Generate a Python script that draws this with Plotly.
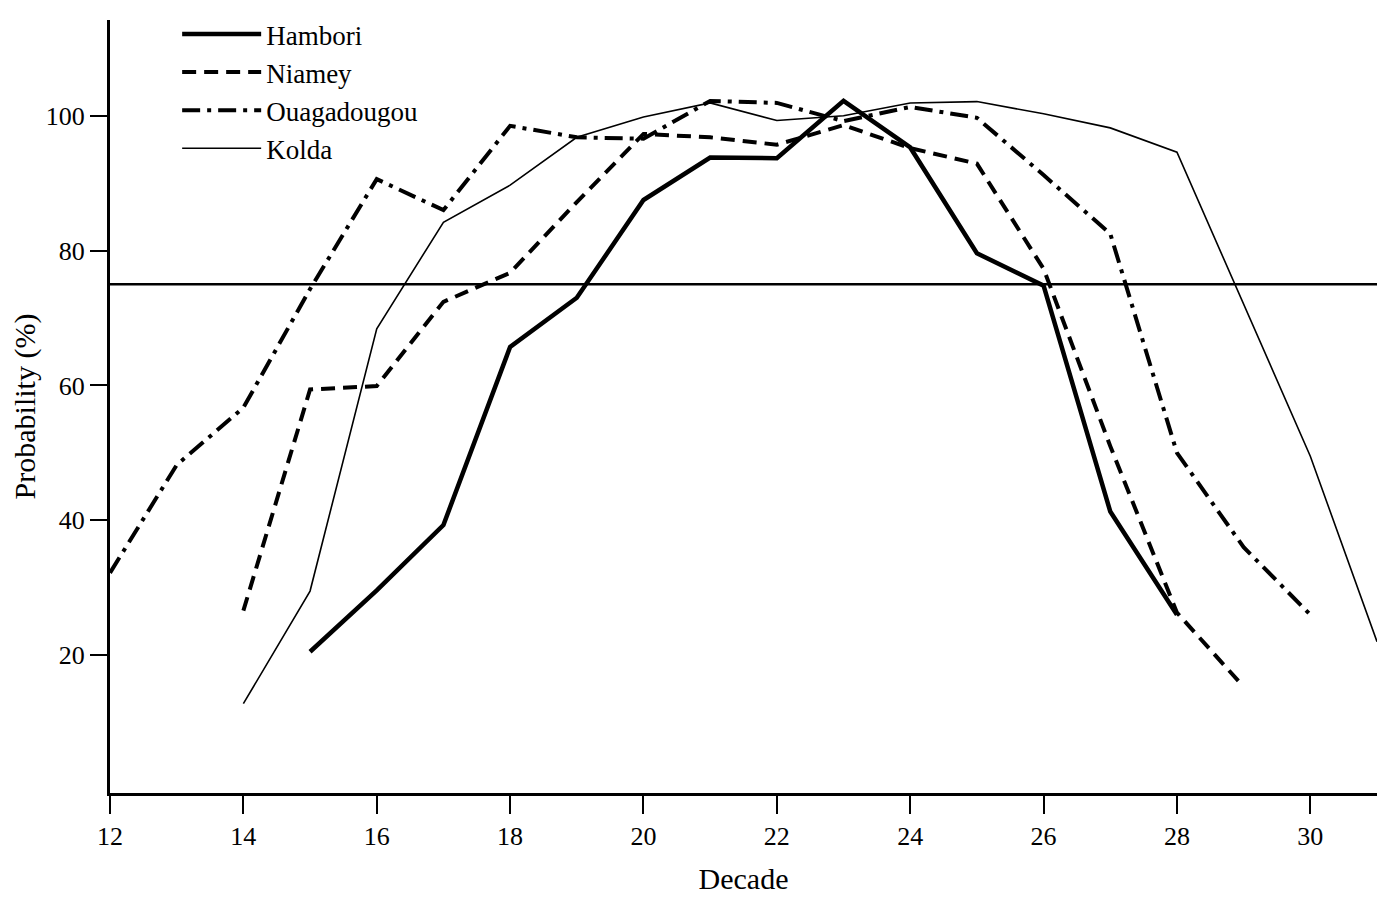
import plotly.graph_objects as go

# ---- data ----
hambori_decade = [15, 16, 17, 18, 19, 20, 21, 22, 23, 24, 25, 26, 27, 28]
hambori_prob = [20.5, 29.6, 39.3, 65.7, 73.0, 87.5, 93.8, 93.7, 102.2, 95.3, 79.6, 74.8, 41.3, 26.0]

niamey_decade = [14, 15, 16, 17, 18, 19, 20, 21, 22, 23, 24, 25, 26, 27, 28, 29]
niamey_prob = [26.6, 59.4, 59.9, 72.4, 76.7, 87.2, 97.3, 96.8, 95.7, 98.6, 95.2, 92.9, 77.3, 51.0, 26.3, 15.3]

ouaga_decade = [12, 13, 14, 15, 16, 17, 18, 19, 20, 21, 22, 23, 24, 25, 26, 27, 28, 29, 30]
ouaga_prob = [32.2, 48.2, 56.7, 74.3, 90.6, 86.0, 98.5, 96.8, 96.6, 102.2, 101.9, 99.2, 101.3, 99.7, 91.2, 82.5, 50.0, 36.0, 26.0]

kolda_decade = [14, 15, 16, 17, 18, 19, 20, 21, 22, 23, 24, 25, 26, 27, 28, 29, 30, 31]
kolda_prob = [12.8, 29.5, 68.4, 84.2, 89.7, 96.8, 99.8, 101.9, 99.3, 100.0, 101.9, 102.1, 100.3, 98.2, 94.6, 72.0, 49.5, 22.0]

threshold = 75

x_ticks = [12, 14, 16, 18, 20, 22, 24, 26, 28, 30]
y_ticks = [20, 40, 60, 80, 100]

FONT = "Liberation Serif, Times New Roman, serif"

fig = go.Figure()
fig.add_trace(go.Scatter(x=hambori_decade, y=hambori_prob, mode="lines", name="Hambori",
                         line=dict(color="black", width=4.5)))
fig.add_trace(go.Scatter(x=niamey_decade, y=niamey_prob, mode="lines", name="Niamey",
                         line=dict(color="black", width=4, dash="14px,8px")))
fig.add_trace(go.Scatter(x=ouaga_decade, y=ouaga_prob, mode="lines", name="Ouagadougou",
                         line=dict(color="black", width=4, dash="18px,7px,4px,7px")))
fig.add_trace(go.Scatter(x=kolda_decade, y=kolda_prob, mode="lines", name="Kolda",
                         line=dict(color="black", width=1.6)))

fig.add_hline(y=threshold, line=dict(color="black", width=2.5))

fig.update_layout(
    width=1378, height=896,
    margin=dict(l=102, r=9, t=2, b=111),
    paper_bgcolor="white", plot_bgcolor="white",
    font=dict(family=FONT, color="black", size=26),
    showlegend=True,
    legend=dict(x=0.053, y=1.013, xanchor="left", yanchor="top",
                bgcolor="rgba(0,0,0,0)", font=dict(size=27, family=FONT),
                itemwidth=79, tracegroupgap=0),
    xaxis=dict(range=[12, 31], tickvals=x_ticks, ticks="outside", ticklen=18, tickwidth=2,
               tickcolor="black", showline=True, linecolor="black", linewidth=3,
               showgrid=False, zeroline=False, tickfont=dict(size=26),
               title=dict(text="Decade", font=dict(size=30), standoff=18)),
    yaxis=dict(range=[-0.45, 114.2], tickvals=y_ticks, ticks="outside", ticklen=17, tickwidth=2,
               tickcolor="black", showline=True, linecolor="black", linewidth=3,
               showgrid=False, zeroline=False, tickfont=dict(size=26),
               title=dict(text="Probability (%)", font=dict(size=30), standoff=12)),
)

fig.write_html("out.html")
